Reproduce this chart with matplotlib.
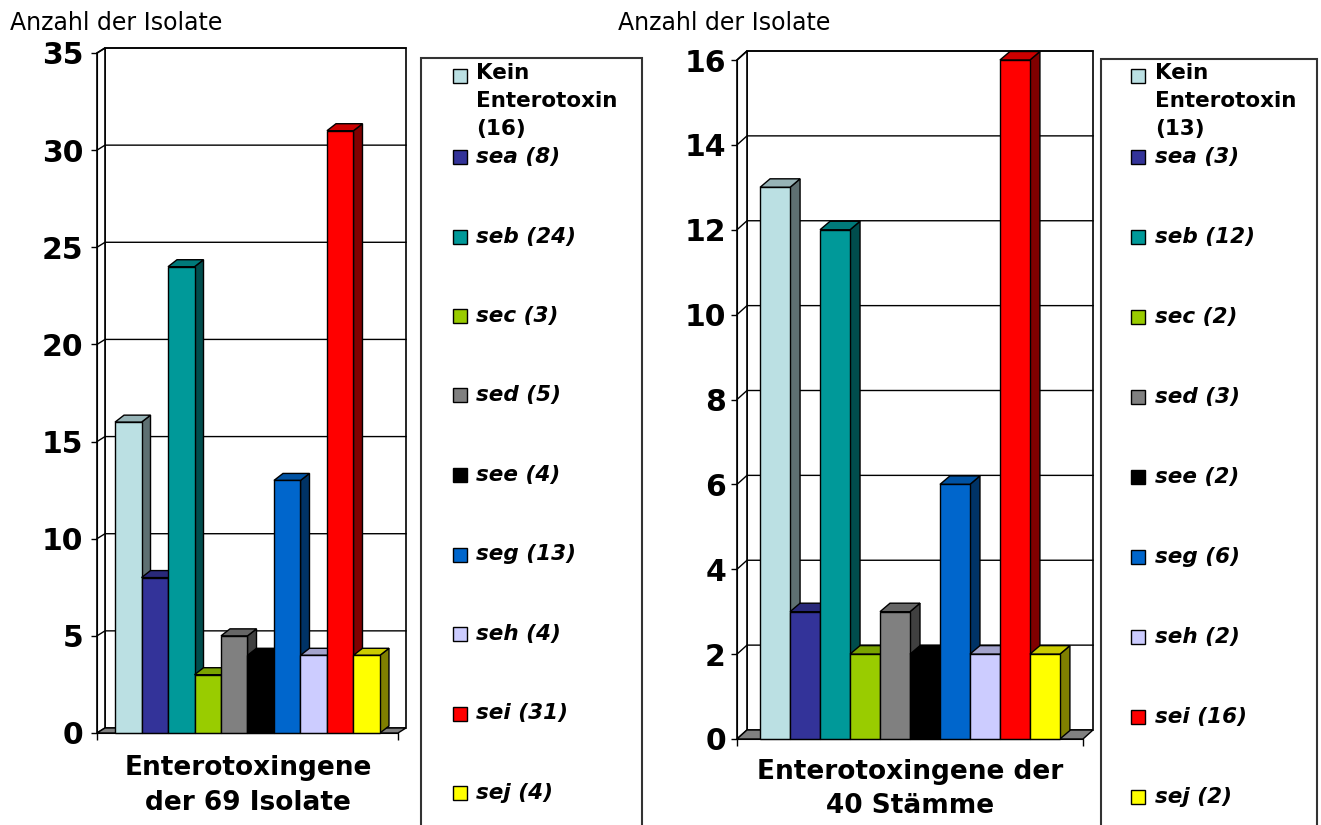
import numpy as np
import matplotlib.pyplot as plt
from matplotlib.patches import Polygon, Rectangle
from matplotlib.colors import to_rgb

W, H = 1321, 825

# Daten
namen = ['Kein\nEnterotoxin', 'sea', 'seb', 'sec', 'sed', 'see', 'seg', 'seh', 'sei', 'sej']
farben = ['#BBE0E3', '#333399', '#009999', '#99CC00', '#808080',
          '#000000', '#0066CC', '#CCCCFF', '#FF0000', '#FFFF00']
werte_69 = [16, 8, 24, 3, 5, 4, 13, 4, 31, 4]
werte_40 = [13, 3, 12, 2, 3, 2, 6, 2, 16, 2]
yticks_69 = [0, 5, 10, 15, 20, 25, 30, 35]
yticks_40 = [0, 2, 4, 6, 8, 10, 12, 14, 16]
ylabel = 'Anzahl der Isolate'
xlabel_69 = 'Enterotoxingene\nder 69 Isolate'
xlabel_40 = 'Enterotoxingene der\n40 Stämme'

plt.rcParams['font.family'] = ['DejaVu Sans']


def dunkler(c, f):
    return tuple(v * f for v in to_rgb(c))


def box(x, y, w, h):
    # Pixel (links oben) -> Figurenanteil
    return [x / W, 1 - (y + h) / H, w / W, h / H]


def diagramm(ax, werte, yticks, wand, balken, rand, pad):
    n = len(werte)
    x = np.arange(n)
    x0, x1 = -0.5 - rand, n - 0.5 + rand
    ymax = yticks[-1]
    ax.set_xlim(x0, x1)
    ax.set_ylim(0, ymax)
    pos = ax.get_position()
    kx = pos.width * W / (x1 - x0)
    ky = pos.height * H / ymax
    wdx, wdy = wand[0] / kx, wand[1] / ky
    bdx, bdy = balken[0] / kx, balken[1] / ky

    # Boden, Rueckwand, Seitenwand
    ax.add_patch(Polygon([(x0, 0), (x1, 0), (x1 + wdx, wdy), (x0 + wdx, wdy)],
                         closed=True, fc='#808080', ec='black', lw=1, zorder=0.5, clip_on=False))
    ax.add_patch(Rectangle((x0 + wdx, wdy), x1 - x0, ymax, fc='white', ec='black',
                           lw=1.2, zorder=0.4, clip_on=False))
    ax.add_patch(Polygon([(x0, 0), (x0 + wdx, wdy), (x0 + wdx, ymax + wdy), (x0, ymax)],
                         closed=True, fc='white', ec='black', lw=1.2, zorder=0.45, clip_on=False))
    for v in yticks[1:]:
        ax.plot([x0, x0 + wdx, x1 + wdx], [v, v + wdy, v + wdy], color='black',
                lw=1, zorder=0.6, clip_on=False)

    # Balken mit 3D-Effekt
    for i in range(n):
        z = 2 + i * 0.1
        v = werte[i]
        ax.add_patch(Polygon([(x[i] + 0.5, 0), (x[i] + 0.5 + bdx, bdy),
                              (x[i] + 0.5 + bdx, v + bdy), (x[i] + 0.5, v)],
                             closed=True, fc=dunkler(farben[i], 0.5), ec='black',
                             lw=1, zorder=z, clip_on=False))
        ax.add_patch(Polygon([(x[i] - 0.5, v), (x[i] - 0.5 + bdx, v + bdy),
                              (x[i] + 0.5 + bdx, v + bdy), (x[i] + 0.5, v)],
                             closed=True, fc=dunkler(farben[i], 0.8), ec='black',
                             lw=1, zorder=z, clip_on=False))
        ax.bar(x[i], v, width=1.0, color=farben[i], edgecolor='black', lw=1,
               zorder=z + 0.05, clip_on=False)

    ax.patch.set_visible(False)
    for s in ['top', 'right']:
        ax.spines[s].set_visible(False)
    ax.spines['left'].set_zorder(3)
    ax.spines['bottom'].set_zorder(3)
    ax.set_yticks(yticks)
    ax.set_yticklabels([str(t) for t in yticks], fontsize=21.5, fontweight='bold')
    ax.tick_params(axis='y', length=4, width=1, pad=pad)
    ax.set_xticks([x0, x1])
    ax.set_xticklabels(['', ''])
    ax.tick_params(axis='x', length=5, width=1)


def legende(fig, werte, rahmen, qx, tx, y_erst, dy, qs):
    fig.add_artist(Rectangle((rahmen[0] / W, -0.05), (rahmen[1] - rahmen[0]) / W,
                             1 - rahmen[2] / H + 0.05, transform=fig.transFigure,
                             fc='white', ec='#333333', lw=1.5, zorder=1))
    for i in range(len(werte)):
        if i == 0:
            yc = y_erst
        else:
            yc = y_erst + 81 + dy * (i - 1)
        fig.add_artist(Rectangle((qx / W, 1 - (yc + qs / 2) / H), qs / W, qs / H,
                                 transform=fig.transFigure, fc=farben[i], ec='black',
                                 lw=1, zorder=2))
        if i == 0:
            fig.text(tx / W, 1 - (yc - 13) / H, namen[i] + '\n(%d)' % werte[i],
                     fontsize=15.5, fontweight='bold', va='top', ha='left',
                     linespacing=1.5, zorder=2)
        else:
            fig.text(tx / W, 1 - yc / H, namen[i] + ' (%d)' % werte[i],
                     fontsize=15.5, fontweight='bold', style='italic',
                     va='center', ha='left', zorder=2)


fig = plt.figure(figsize=(W / 100, H / 100), dpi=100)

ax1 = fig.add_axes(box(97, 53, 301, 680))
diagramm(ax1, werte_69, yticks_69, (8, 5), (9, 7), 0.68, 6)
ax2 = fig.add_axes(box(737, 60, 346, 679))
diagramm(ax2, werte_40, yticks_40, (10, 9), (10, 8.5), 0.77, 4)

fig.text(10 / W, 1 - 30 / H, ylabel, fontsize=17, va='baseline', ha='left')
fig.text(618 / W, 1 - 30 / H, ylabel, fontsize=17, va='baseline', ha='left')

fig.text(248 / W, 1 - 755 / H, xlabel_69, fontsize=19, fontweight='bold',
         va='top', ha='center', linespacing=1.45)
fig.text(910 / W, 1 - 759 / H, xlabel_40, fontsize=19, fontweight='bold',
         va='top', ha='center', linespacing=1.4)

legende(fig, werte_69, (421, 642, 58), 453, 476, 76, 79.5, 14)
legende(fig, werte_40, (1101, 1317, 59), 1131, 1155, 76, 80, 14)

fig.savefig('out.png', dpi=100)
